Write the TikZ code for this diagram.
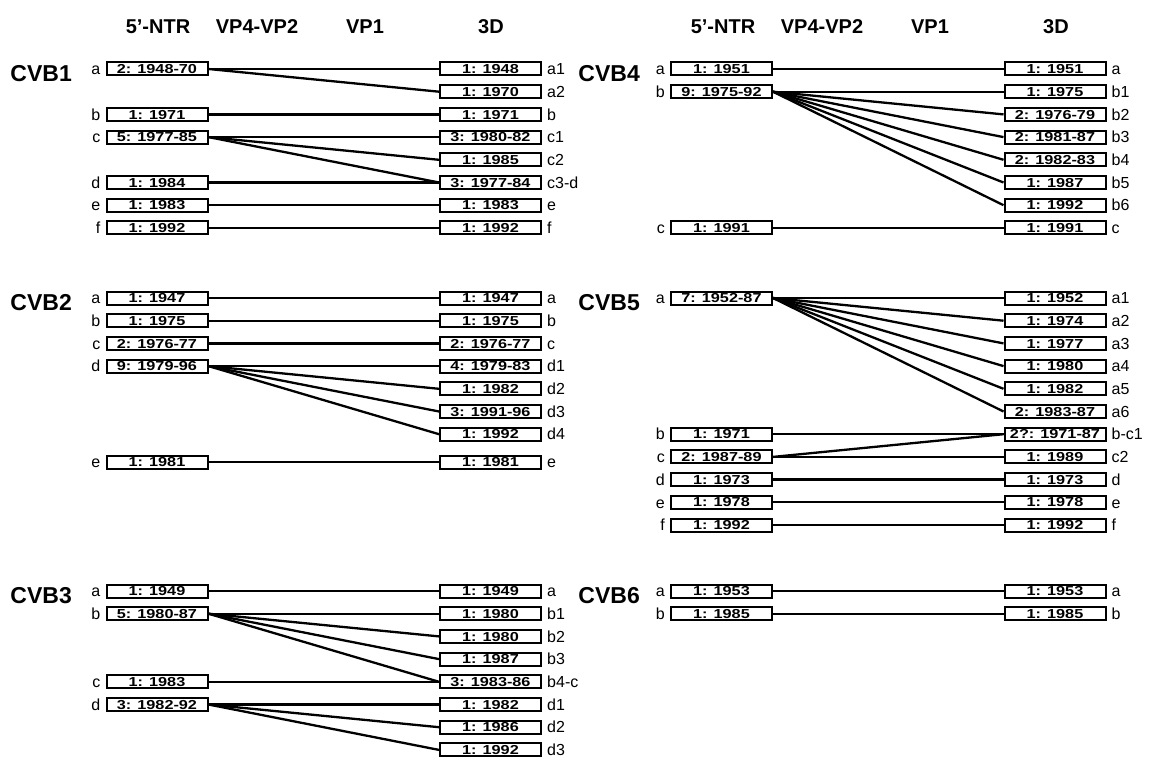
\documentclass[tikz,border=0pt]{standalone}
\usepackage{fontspec}
\setmainfont{Liberation Sans}
\newfontfamily\segfont[FakeStretch=1.25]{Liberation Sans}
\usetikzlibrary{positioning}

\begin{document}
\begin{tikzpicture}[x=1pt,y=-1pt,label distance=5pt,
  seg/.style={draw, line width=2pt, fill=white, minimum width=101pt, minimum height=13pt, inner sep=0pt, text height=9.3pt, text depth=0pt, font=\segfont\fontsize{13}{13}\selectfont\bfseries},
  tag/.style={inner sep=0pt, text height=11.5pt, text depth=0pt, font=\fontsize{16}{16}\selectfont},
  grp/.style={anchor=base east, inner sep=0pt, font=\fontsize{23}{23}\selectfont\bfseries},
  hdr/.style={inner sep=0pt, font=\fontsize{20}{20}\selectfont\bfseries},
  link/.style={line width=2.3pt}]
\useasboundingbox (0,0) rectangle (1153,757);

\node[hdr] (hntrL) at (158,27) {5’-NTR};
\node[hdr] (hcapL) at (257,27) {VP4-VP2};
\node[hdr] (hvpL) at (365,27) {VP1};
\node[hdr] (hthdL) at (491,27) {3D};
\node[hdr] (hntrR) at (723,27) {5’-NTR};
\node[hdr] (hcapR) at (822,27) {VP4-VP2};
\node[hdr] (hvpR) at (930,27) {VP1};
\node[hdr] (hthdR) at (1056,27) {3D};

\node[grp] (cvb1) at (72,81.5) {CVB1};
\node[seg, label={[tag,name=t1a]left:a}] (ntr1a) at (157,69) {2: 1948-70};
\node[seg, label={[tag,name=t1b]left:b}] (ntr1b) at (157,114.4) {1: 1971};
\node[seg, label={[tag,name=t1c]left:c}] (ntr1c) at (157,137.1) {5: 1977-85};
\node[seg, label={[tag,name=t1d]left:d}] (ntr1d) at (157,182.5) {1: 1984};
\node[seg, label={[tag,name=t1e]left:e}] (ntr1e) at (157,205.2) {1: 1983};
\node[seg, label={[tag,name=t1f]left:f}] (ntr1f) at (157,227.9) {1: 1992};
\node[seg, label={[tag,name=s1a1]right:a1}] (thd1a1) at (490.5,69) {1: 1948};
\node[seg, label={[tag,name=s1a2]right:a2}] (thd1a2) at (490.5,91.7) {1: 1970};
\node[seg, label={[tag,name=s1b]right:b}] (thd1b) at (490.5,114.4) {1: 1971};
\node[seg, label={[tag,name=s1c1]right:c1}] (thd1c1) at (490.5,137.1) {3: 1980-82};
\node[seg, label={[tag,name=s1c2]right:c2}] (thd1c2) at (490.5,159.8) {1: 1985};
\node[seg, label={[tag,name=s1cd]right:c3-d}] (thd1cd) at (490.5,182.5) {3: 1977-84};
\node[seg, label={[tag,name=s1e]right:e}] (thd1e) at (490.5,205.2) {1: 1983};
\node[seg, label={[tag,name=s1f]right:f}] (thd1f) at (490.5,227.9) {1: 1992};
\draw[link] (ntr1a.east) -- (thd1a1.west);
\draw[link] (ntr1a.east) -- (thd1a2.west);
\draw[link] (ntr1b.east) -- (thd1b.west);
\draw[link] (ntr1c.east) -- (thd1c1.west);
\draw[link] (ntr1c.east) -- (thd1c2.west);
\draw[link] (ntr1c.east) -- (thd1cd.west);
\draw[link] (ntr1d.east) -- (thd1cd.west);
\draw[link] (ntr1e.east) -- (thd1e.west);
\draw[link] (ntr1f.east) -- (thd1f.west);

\node[grp] (cvb2) at (72,310.5) {CVB2};
\node[seg, label={[tag,name=t2a]left:a}] (ntr2a) at (157,298) {1: 1947};
\node[seg, label={[tag,name=t2b]left:b}] (ntr2b) at (157,320.7) {1: 1975};
\node[seg, label={[tag,name=t2c]left:c}] (ntr2c) at (157,343.4) {2: 1976-77};
\node[seg, label={[tag,name=t2d]left:d}] (ntr2d) at (157,366.1) {9: 1979-96};
\node[seg, label={[tag,name=t2e]left:e}] (ntr2e) at (157,462) {1: 1981};
\node[seg, label={[tag,name=s2a]right:a}] (thd2a) at (490.5,298) {1: 1947};
\node[seg, label={[tag,name=s2b]right:b}] (thd2b) at (490.5,320.7) {1: 1975};
\node[seg, label={[tag,name=s2c]right:c}] (thd2c) at (490.5,343.4) {2: 1976-77};
\node[seg, label={[tag,name=s2d1]right:d1}] (thd2d1) at (490.5,366.1) {4: 1979-83};
\node[seg, label={[tag,name=s2d2]right:d2}] (thd2d2) at (490.5,388.8) {1: 1982};
\node[seg, label={[tag,name=s2d3]right:d3}] (thd2d3) at (490.5,411.5) {3: 1991-96};
\node[seg, label={[tag,name=s2d4]right:d4}] (thd2d4) at (490.5,434.2) {1: 1992};
\node[seg, label={[tag,name=s2e]right:e}] (thd2e) at (490.5,462) {1: 1981};
\draw[link] (ntr2a.east) -- (thd2a.west);
\draw[link] (ntr2b.east) -- (thd2b.west);
\draw[link] (ntr2c.east) -- (thd2c.west);
\draw[link] (ntr2d.east) -- (thd2d1.west);
\draw[link] (ntr2d.east) -- (thd2d2.west);
\draw[link] (ntr2d.east) -- (thd2d3.west);
\draw[link] (ntr2d.east) -- (thd2d4.west);
\draw[link] (ntr2e.east) -- (thd2e.west);

\node[grp] (cvb3) at (72,603.5) {CVB3};
\node[seg, label={[tag,name=t3a]left:a}] (ntr3a) at (157,591) {1: 1949};
\node[seg, label={[tag,name=t3b]left:b}] (ntr3b) at (157,613.7) {5: 1980-87};
\node[seg, label={[tag,name=t3c]left:c}] (ntr3c) at (157,681.8) {1: 1983};
\node[seg, label={[tag,name=t3d]left:d}] (ntr3d) at (157,704.5) {3: 1982-92};
\node[seg, label={[tag,name=s3a]right:a}] (thd3a) at (490.5,591) {1: 1949};
\node[seg, label={[tag,name=s3b1]right:b1}] (thd3b1) at (490.5,613.7) {1: 1980};
\node[seg, label={[tag,name=s3b2]right:b2}] (thd3b2) at (490.5,636.4) {1: 1980};
\node[seg, label={[tag,name=s3b3]right:b3}] (thd3b3) at (490.5,659.1) {1: 1987};
\node[seg, label={[tag,name=s3bc]right:b4-c}] (thd3bc) at (490.5,681.8) {3: 1983-86};
\node[seg, label={[tag,name=s3d1]right:d1}] (thd3d1) at (490.5,704.5) {1: 1982};
\node[seg, label={[tag,name=s3d2]right:d2}] (thd3d2) at (490.5,727.2) {1: 1986};
\node[seg, label={[tag,name=s3d3]right:d3}] (thd3d3) at (490.5,749.9) {1: 1992};
\draw[link] (ntr3a.east) -- (thd3a.west);
\draw[link] (ntr3b.east) -- (thd3b1.west);
\draw[link] (ntr3b.east) -- (thd3b2.west);
\draw[link] (ntr3b.east) -- (thd3b3.west);
\draw[link] (ntr3b.east) -- (thd3bc.west);
\draw[link] (ntr3c.east) -- (thd3bc.west);
\draw[link] (ntr3d.east) -- (thd3d1.west);
\draw[link] (ntr3d.east) -- (thd3d2.west);
\draw[link] (ntr3d.east) -- (thd3d3.west);

\node[grp] (cvb4) at (640,81.5) {CVB4};
\node[seg, label={[tag,name=t4a]left:a}] (ntr4a) at (721.5,69) {1: 1951};
\node[seg, label={[tag,name=t4b]left:b}] (ntr4b) at (721.5,91.7) {9: 1975-92};
\node[seg, label={[tag,name=t4c]left:c}] (ntr4c) at (721.5,227.9) {1: 1991};
\node[seg, label={[tag,name=s4a]right:a}] (thd4a) at (1055,69) {1: 1951};
\node[seg, label={[tag,name=s4b1]right:b1}] (thd4b1) at (1055,91.7) {1: 1975};
\node[seg, label={[tag,name=s4b2]right:b2}] (thd4b2) at (1055,114.4) {2: 1976-79};
\node[seg, label={[tag,name=s4b3]right:b3}] (thd4b3) at (1055,137.1) {2: 1981-87};
\node[seg, label={[tag,name=s4b4]right:b4}] (thd4b4) at (1055,159.8) {2: 1982-83};
\node[seg, label={[tag,name=s4b5]right:b5}] (thd4b5) at (1055,182.5) {1: 1987};
\node[seg, label={[tag,name=s4b6]right:b6}] (thd4b6) at (1055,205.2) {1: 1992};
\node[seg, label={[tag,name=s4c]right:c}] (thd4c) at (1055,227.9) {1: 1991};
\draw[link] (ntr4a.east) -- (thd4a.west);
\draw[link] (ntr4b.east) -- (thd4b1.west);
\draw[link] (ntr4b.east) -- (thd4b2.west);
\draw[link] (ntr4b.east) -- (thd4b3.west);
\draw[link] (ntr4b.east) -- (thd4b4.west);
\draw[link] (ntr4b.east) -- (thd4b5.west);
\draw[link] (ntr4b.east) -- (thd4b6.west);
\draw[link] (ntr4c.east) -- (thd4c.west);

\node[grp] (cvb5) at (640,310.5) {CVB5};
\node[seg, label={[tag,name=t5a]left:a}] (ntr5a) at (721.5,298) {7: 1952-87};
\node[seg, label={[tag,name=t5b]left:b}] (ntr5b) at (721.5,434.2) {1: 1971};
\node[seg, label={[tag,name=t5c]left:c}] (ntr5c) at (721.5,456.9) {2: 1987-89};
\node[seg, label={[tag,name=t5d]left:d}] (ntr5d) at (721.5,479.6) {1: 1973};
\node[seg, label={[tag,name=t5e]left:e}] (ntr5e) at (721.5,502.3) {1: 1978};
\node[seg, label={[tag,name=t5f]left:f}] (ntr5f) at (721.5,525) {1: 1992};
\node[seg, label={[tag,name=s5a1]right:a1}] (thd5a1) at (1055,298) {1: 1952};
\node[seg, label={[tag,name=s5a2]right:a2}] (thd5a2) at (1055,320.7) {1: 1974};
\node[seg, label={[tag,name=s5a3]right:a3}] (thd5a3) at (1055,343.4) {1: 1977};
\node[seg, label={[tag,name=s5a4]right:a4}] (thd5a4) at (1055,366.1) {1: 1980};
\node[seg, label={[tag,name=s5a5]right:a5}] (thd5a5) at (1055,388.8) {1: 1982};
\node[seg, label={[tag,name=s5a6]right:a6}] (thd5a6) at (1055,411.5) {2: 1983-87};
\node[seg, label={[tag,name=s5bc]right:b-c1}] (thd5bc) at (1055,434.2) {2?: 1971-87};
\node[seg, label={[tag,name=s5c2]right:c2}] (thd5c2) at (1055,456.9) {1: 1989};
\node[seg, label={[tag,name=s5d]right:d}] (thd5d) at (1055,479.6) {1: 1973};
\node[seg, label={[tag,name=s5e]right:e}] (thd5e) at (1055,502.3) {1: 1978};
\node[seg, label={[tag,name=s5f]right:f}] (thd5f) at (1055,525) {1: 1992};
\draw[link] (ntr5a.east) -- (thd5a1.west);
\draw[link] (ntr5a.east) -- (thd5a2.west);
\draw[link] (ntr5a.east) -- (thd5a3.west);
\draw[link] (ntr5a.east) -- (thd5a4.west);
\draw[link] (ntr5a.east) -- (thd5a5.west);
\draw[link] (ntr5a.east) -- (thd5a6.west);
\draw[link] (ntr5b.east) -- (thd5bc.west);
\draw[link] (ntr5c.east) -- (thd5bc.west);
\draw[link] (ntr5c.east) -- (thd5c2.west);
\draw[link] (ntr5d.east) -- (thd5d.west);
\draw[link] (ntr5e.east) -- (thd5e.west);
\draw[link] (ntr5f.east) -- (thd5f.west);

\node[grp] (cvb6) at (640,603.5) {CVB6};
\node[seg, label={[tag,name=t6a]left:a}] (ntr6a) at (721.5,591) {1: 1953};
\node[seg, label={[tag,name=t6b]left:b}] (ntr6b) at (721.5,613.7) {1: 1985};
\node[seg, label={[tag,name=s6a]right:a}] (thd6a) at (1055,591) {1: 1953};
\node[seg, label={[tag,name=s6b]right:b}] (thd6b) at (1055,613.7) {1: 1985};
\draw[link] (ntr6a.east) -- (thd6a.west);
\draw[link] (ntr6b.east) -- (thd6b.west);
\end{tikzpicture}
\end{document}
